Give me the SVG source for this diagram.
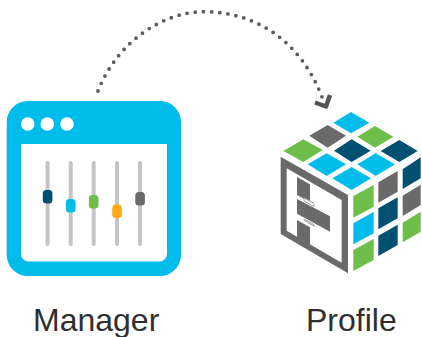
<svg xmlns="http://www.w3.org/2000/svg" width="422" height="337" viewBox="0 0 422 337">
<style>
.t{font-family:"Liberation Sans",Arial,sans-serif;font-size:32px;fill:#2f2f2f}
.track{fill:#c4c4c4}
.dot{fill:#fff}
.cy{fill:#00bceb}.nv{fill:#005073}.gn{fill:#6ebe4a}.gy{fill:#6a6a6a}.or{fill:#ffa917}
.dots{fill:none;stroke:#5c5c5c;stroke-width:3.8;stroke-linecap:round;stroke-dasharray:0 8.2}
.head{fill:none;stroke:#555;stroke-width:4.5;stroke-linejoin:round}
.link{fill:#fff;stroke:#8a8a8a;stroke-width:2.500}
</style>
<rect width="422" height="337" fill="#fff"/>
<g id="connectors">
<path class="dots" d="M98 91C118 40 165 11.700 203.700 11.700C255 11.700 300 40 322 97"/>
<path class="head" d="M315 102.500L326 106.500L330 95"/>
</g>
<g id="manager">
<rect class="cy" x="6.700" y="101" width="174.300" height="175" rx="21"/>
<path fill="#fff" d="M21 144H167V254A7.500 7.500 0 0 1 159.500 261.500H28.500A7.500 7.500 0 0 1 21 254Z"/>
<circle class="dot" cx="27.700" cy="124" r="6.800"/>
<circle class="dot" cx="47.300" cy="124" r="6.800"/>
<circle class="dot" cx="67" cy="124" r="6.800"/>
<rect class="track" x="45.600" y="161" width="4" height="85" rx="2"/>
<rect class="track" x="68.700" y="161" width="4" height="85" rx="2"/>
<rect class="track" x="91.700" y="161" width="4" height="85" rx="2"/>
<rect class="track" x="115" y="161" width="4" height="85" rx="2"/>
<rect class="track" x="138" y="161" width="4" height="85" rx="2"/>
<rect class="nv" x="42.800" y="190" width="9.600" height="13.500" rx="3.500"/>
<rect class="cy" x="65.900" y="199" width="9.600" height="13.500" rx="3.500"/>
<rect class="gn" x="88.900" y="195" width="9.600" height="13.500" rx="3.500"/>
<rect class="or" x="112.200" y="204.500" width="9.600" height="13.500" rx="3.500"/>
<rect class="gy" x="135.300" y="192" width="9.600" height="13.500" rx="3.500"/>
<text class="t" x="33" y="331">Manager</text>
</g>
<g id="profile">
<g transform="translate(270 100) scale(.33333)">
<polygon class="cy" points="243,36 298,68 243,100 190,68"/>
<polygon class="gy" points="173,75 228,107 173,143 118,107"/>
<polygon class="gn" points="315,78 370,110 315,143 262,110"/>
<polygon class="gn" points="100,118 158,150 100,186 40,153"/>
<polygon class="nv" points="245,118 302,152 245,186 192,152"/>
<polygon class="nv" points="388,120 443,153 388,186 332,153"/>
<polygon class="cy" points="170,160 228,193 170,228 113,193"/>
<polygon class="cy" points="317,160 375,193 317,228 262,193"/>
<polygon class="cy" points="245,201 303,235 245,270 187,235"/>
<polygon class="gn" points="250,288 311,255 311,320 250,353"/>
<polygon class="cy" points="250,370 311,336 311,400 250,433"/>
<polygon class="gn" points="250,450 311,417 311,480 250,513"/>
<polygon class="gy" points="325,247 383,213 383,275 325,308"/>
<polygon class="nv" points="325,325 383,292 383,355 325,388"/>
<polygon class="nv" points="325,407 383,374 383,435 325,468"/>
<polygon class="nv" points="398,208 452,172 452,235 398,267"/>
<polygon class="gy" points="398,287 452,254 452,315 398,348"/>
<polygon class="gn" points="398,368 452,335 452,395 398,427"/>
<path class="gy" fill-rule="evenodd" d="M32 170L234 285V520L32 402ZM50 205V392L215 488V300Z"/>
<polygon class="gy" points="81,231 120,253 120,306 81,285"/>
<polygon class="gy" points="81,297 180,349 180,395 81,341"/>
<polygon class="gy" points="81,360 120,382 120,435 81,412"/>
<polygon class="link" points="102,293 132,310 132,320 102,303"/>
<polygon class="link" points="102,361 132,378 132,374 102,357"/>
</g>
<text class="t" x="306" y="331">Profile</text>
</g>
</svg>
